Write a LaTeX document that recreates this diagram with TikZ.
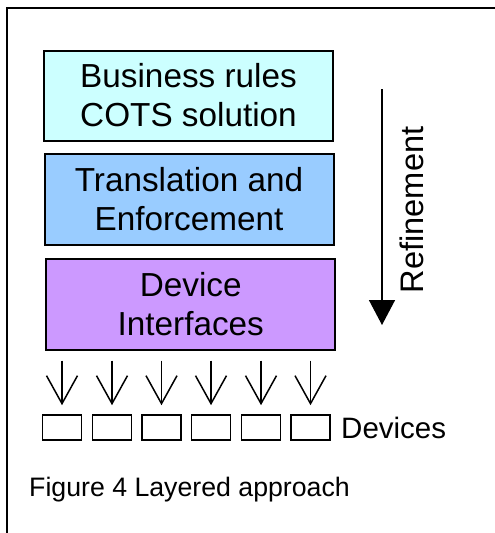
\documentclass[tikz,border=0pt]{standalone}
\usepackage{fontspec}
\setmainfont{Liberation Sans}
\usetikzlibrary{arrows.meta,positioning}
\definecolor{bizcyan}{HTML}{CCFFFF}
\definecolor{transblue}{HTML}{99CCFF}
\definecolor{devpurple}{HTML}{CC99FF}
\tikzset{
  layer/.style={draw, line width=2pt, minimum width=289pt, minimum height=90pt,
    align=center, inner sep=0pt, font=\fontsize{33.3}{39}\selectfont},
  devbox/.style={draw, line width=1.6pt, minimum width=39pt, minimum height=25pt, inner sep=0pt}
}
\begin{document}
\begin{tikzpicture}[x=1pt, y=-1pt, >={Straight Barb[length=28pt,width=31pt]}]
\useasboundingbox (0,0) rectangle (495,533);
\draw[line width=2pt](7,533)--(7,7.75)--(495,7.75);
% layers
\node[layer, fill=bizcyan](lay1) at (188.5,95.5){Business rules\\COTS solution};
\node[layer, fill=transblue, minimum height=91.5pt](lay2) at (189,199.25){Translation and\\Enforcement};
\node[layer, fill=devpurple, minimum height=91pt](lay3) at (190.75,304){Device\\Interfaces};
% refinement arrow
\coordinate (rtop) at (382,89);
\coordinate (rtip) at (382,325);
\draw[line width=1.5pt, -{Triangle[length=25pt,width=26pt]}](rtop)--(rtip);
\node[rotate=90, anchor=base, inner sep=0pt, font=\fontsize{32.6}{38}\selectfont](refl) at (423,210){Refinement};
% devices
\foreach \i/\x in {1/62,2/112,3/161.5,4/211,5/261,6/310.5}{
  \node[devbox](d\i) at (\x,427.5){};
  \draw[->, line width=1.5pt, shorten <=10pt, shorten >=9pt](lay3.south -| d\i)--(d\i.north);
}
\node[anchor=base west, inner sep=0pt, font=\fontsize{29.5}{35}\selectfont](devl) at (341,438){Devices};
\node[anchor=base west, inner sep=0pt, font=\fontsize{26.7}{32}\selectfont](capt) at (29,496.7){Figure 4 Layered approach};
\end{tikzpicture}
\end{document}
